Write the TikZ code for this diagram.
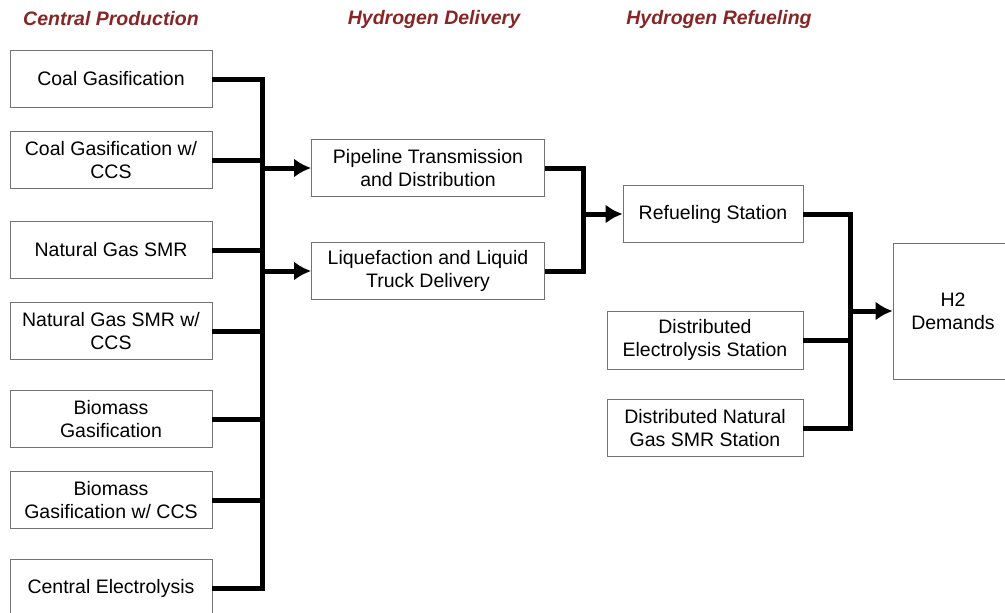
\documentclass[tikz,border=0pt]{standalone}
\usepackage{fontspec}
\setmainfont{Liberation Sans}
\usetikzlibrary{arrows.meta}
\definecolor{headred}{HTML}{862626}

\begin{document}
\begin{tikzpicture}[x=1pt,y=-1pt,
	box/.style={draw=black!55, line width=0.8pt, fill=white, align=center, inner sep=0pt,
		font=\fontsize{19.5}{23}\selectfont},
	head/.style={text=headred, font=\fontsize{19.5}{21}\selectfont\bfseries\itshape},
	link/.style={line width=5pt},
	flow/.style={line width=5pt, -{Latex[length=17pt,width=19pt]}}]
			%%%%% START %%%%%
			\useasboundingbox (0,0) rectangle (1005,613);
			
			% headings
			\node[head] (hprod) at (111,19) {Central Production};
			\node[head] (hdel) at (434,19) {Hydrogen Delivery};
			\node[head] (hfuel) at (719,19) {Hydrogen Refueling};
			
			% central production
			\node[box, minimum width=202pt, minimum height=57pt] (cg) at (111,79) {Coal Gasification};
			\node[box, minimum width=202pt, minimum height=57pt] (cgccs) at (111,160) {Coal Gasification w/\\CCS};
			\node[box, minimum width=202pt, minimum height=57pt] (smr) at (111,250) {Natural Gas SMR};
			\node[box, minimum width=202pt, minimum height=57pt] (smrccs) at (111,331) {Natural Gas SMR w/\\CCS};
			\node[box, minimum width=202pt, minimum height=57pt] (bio) at (111,419) {Biomass\\Gasification};
			\node[box, minimum width=202pt, minimum height=57pt] (bioccs) at (111,500) {Biomass\\Gasification w/ CCS};
			\node[box, minimum width=202pt, minimum height=57pt] (elec) at (111,588) {Central Electrolysis};
			
			% delivery
			\node[box, minimum width=233pt, minimum height=57pt] (pipe) at (428,168) {Pipeline Transmission\\and Distribution};
			\node[box, minimum width=233pt, minimum height=57pt] (liq) at (428,271) {Liquefaction and Liquid\\Truck Delivery};
			
			% refueling
			\node[box, minimum width=180pt, minimum height=57pt] (ref) at (713,214) {Refueling Station};
			\node[box, minimum width=196pt, minimum height=58pt] (delec) at (705,340) {Distributed\\Electrolysis Station};
			\node[box, minimum width=196pt, minimum height=57pt] (dsmr) at (705,428) {Distributed Natural\\Gas SMR Station};
			
			\node[box, minimum width=120pt, minimum height=136pt] (h2) at (953,311) {H2\\Demands};
			
			% buses
			\coordinate (busA) at (262,0);
			\coordinate (busB) at (583,0);
			\coordinate (busC) at (850,0);
			
			\draw[link] (cg.east) -- (cg.east -| busA) |- (elec.east);
			\draw[link] (cgccs.east) -- (cgccs.east -| busA);
			\draw[link] (smr.east) -- (smr.east -| busA);
			\draw[link] (smrccs.east) -- (smrccs.east -| busA);
			\draw[link] (bio.east) -- (bio.east -| busA);
			\draw[link] (bioccs.east) -- (bioccs.east -| busA);
			\draw[flow] (pipe.west -| busA) -- (pipe.west);
			\draw[flow] (liq.west -| busA) -- (liq.west);
			
			\draw[link] (pipe.east) -- (pipe.east -| busB) |- (liq.east);
			\draw[flow] (ref.west -| busB) -- (ref.west);
			
			\draw[link] (ref.east) -- (ref.east -| busC) |- (dsmr.east);
			\draw[link] (delec.east) -- (delec.east -| busC);
			\draw[flow] (h2.west -| busC) -- (h2.west);
			
			%%%%% END %%%%%
\end{tikzpicture}
\end{document}
